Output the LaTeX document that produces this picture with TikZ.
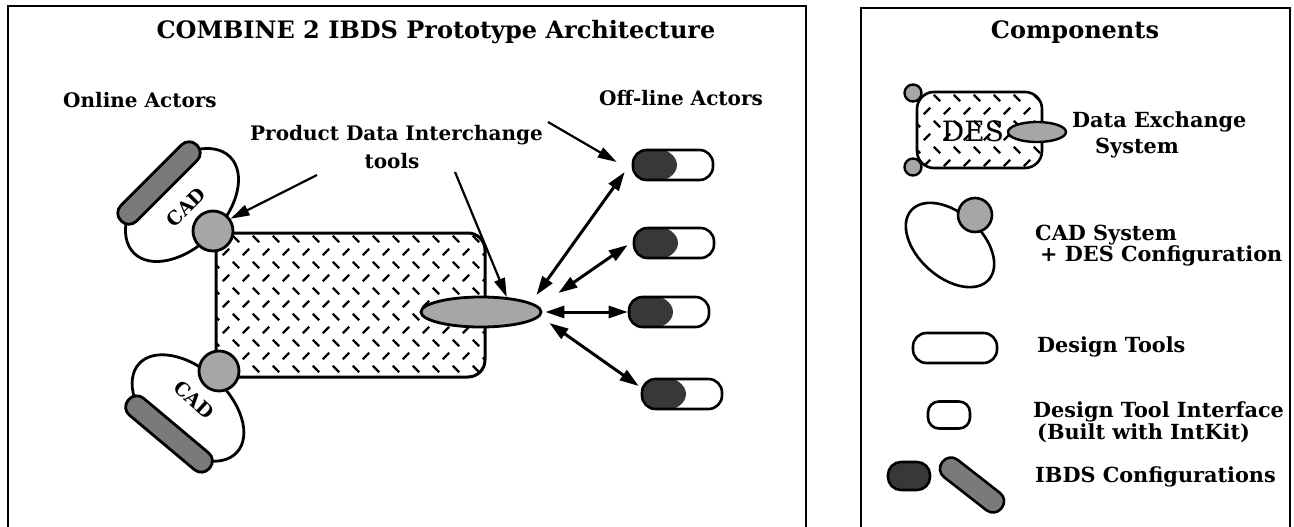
\documentclass[tikz,border=0pt]{standalone}
\usepackage{fontspec}
\setmainfont{DejaVu Serif}
\usetikzlibrary{arrows.meta,shapes.geometric}

% diamond-plate dashes over the rectangle [#1,#3] x [#2,#4] (node-relative)
\newcommand\plate[4]{%
  \pgfmathtruncatemacro\platenc{(#3-#1)/20+1}%
  \pgfmathtruncatemacro\platenr{(#4-#2)/13+1}%
  \foreach \r in {0,...,\platenr}{%
    \foreach \c in {0,...,\platenc}{%
      \pgfmathsetmacro\px{#1+20*\c+10*mod(\r,2)}%
      \pgfmathsetmacro\py{#2+6+13*\r}%
      \pgfmathsetmacro\dx{ifthenelse(mod(\r,2)==0,3.2,-3.2)}%
      \draw[platedash] ({\px-(\dx)},{\py-3.2}) -- ({\px+(\dx)},{\py+3.2});
    }%
  }%
}

\begin{document}
\begin{tikzpicture}[x=1pt,y=-1pt,
  frame/.style={draw,line width=1.6pt},
  platedash/.style={line width=2.2pt,line cap=butt},
  ttl/.style={font=\bfseries\fontsize{24}{27}\selectfont,inner sep=0pt},
  lbl/.style={font=\bfseries\fontsize{20}{22}\selectfont,inner sep=0pt,anchor=west},
  leg/.style={font=\bfseries\fontsize{20.8}{22}\selectfont,inner sep=0pt,anchor=west},
  desbox/.style={draw,line width=3pt,fill=white,rounded corners=17pt,inner sep=0pt},
  cadshape/.style={ellipse,draw,line width=2.8pt,fill=white,inner sep=0pt},
  bar/.style={rectangle,draw,line width=2.8pt,fill=black!52,rounded corners=10.5pt,inner sep=0pt},
  greydot/.style={circle,draw,line width=2.8pt,fill=black!35,inner sep=0pt},
  pdishape/.style={ellipse,draw,line width=2.8pt,fill=black!35,inner sep=0pt},
  capsule/.style={draw,line width=2.6pt,fill=white,rounded corners=13.5pt,inner sep=0pt},
  pill/.style={capsule,minimum width=80pt,minimum height=30pt,
    path picture={\fill[black!78] ([xshift=20pt]path picture bounding box.west) ellipse (24pt and 17pt);}},
  cadtext/.style={font=\bfseries\fontsize{19}{19}\selectfont,inner sep=0pt},
  arr/.style={line width=2.2pt,-{Triangle[length=19pt,width=11pt]}},
  darr/.style={line width=3pt,{Triangle[length=19pt,width=12pt]}-{Triangle[length=19pt,width=12pt]}}
]
\useasboundingbox (0,0) rectangle (1294,527);
\clip (0,0) rectangle (1294,527);

% panel frames
\draw[frame] (8,540) -- (8,6) -- (806,6) -- (806,540);
\draw[frame] (861,540) -- (861,8) -- (1290,8) -- (1290,540);

% ---------------- architecture panel ----------------
\node[ttl] (title) at (436,32) {COMBINE 2 IBDS Prototype Architecture};
\node[lbl] (online) at (63,100) {Online Actors};
\node[lbl,anchor=east] (offline) at (763,98) {Off-line Actors};
\node[lbl] (pdil) at (250,135) {Product Data Interchange};
\node[lbl,anchor=center] (tools) at (392,161) {tools};

% data exchange system
\node[desbox,minimum width=269pt,minimum height=144pt,
  path picture={\plate{-134.5}{-72}{134.5}{72}}] (des) at (350.5,305) {};

% online CAD actors
\node[cadshape,minimum width=136pt,minimum height=84pt,rotate=45] (cadA) at (182,205) {};
\node[bar,minimum width=107pt,minimum height=22pt,rotate=45] (barA) at (159,183) {};
\node[cadtext,rotate=45] (cadAt) at (186,207) {CAD};
\node[greydot,minimum size=40pt] (ctop) at (213,231) {};

\node[cadshape,minimum width=132pt,minimum height=80pt,rotate=-42] (cadB) at (188,408) {};
\node[bar,minimum width=106pt,minimum height=22pt,rotate=-40] (barB) at (169,434) {};
\node[cadtext,rotate=-42] (cadBt) at (194,400) {CAD};
\node[greydot,minimum size=40pt] (cbot) at (219,371) {};

% product data interchange tool
\node[pdishape,minimum width=120pt,minimum height=30pt] (pdi) at (481,312) {};

% off-line actors
\node[pill] (p1) at (673,165) {};
\node[pill] (p2) at (674,243) {};
\node[pill] (p3) at (669,312) {};
\node[pill] (p4) at (682,394) {};

% label arrows
\coordinate (a1) at (317,175);
\coordinate (a2) at (455,172);
\coordinate (a3) at (548,122);
\draw[arr] (a1) -- (ctop.35);
\draw[arr] (a2) -- (pdi.30);
\draw[arr] (a3) -- ([shift={(-15,-3)}]p1.west);

% exchange links
\draw[darr] ([shift={(-6,-17)}]pdi.east) -- ([shift={(-7,7)}]p1.west);
\draw[darr] ([shift={(16,-19)}]pdi.east) -- ([shift={(-5,2)}]p2.west);
\draw[darr] ([shift={(3,0)}]pdi.east) -- (p3.west);
\draw[darr] ([shift={(7,11)}]pdi.east) -- ([shift={(-2,-8)}]p4.west);

% ---------------- components panel ----------------
\node[ttl] (comp) at (1075,32) {Components};

\node[desbox,line width=2.6pt,minimum width=125pt,minimum height=76pt,
  path picture={\plate{-62.5}{-38}{62.5}{38}}] (desl) at (979.5,130) {};
\node[font=\fontsize{28}{28}\selectfont,inner sep=0pt] (deslt) at (973,131) {DES};
\node[greydot,line width=2.4pt,minimum size=17pt] (deslc1) at (913,93) {};
\node[greydot,line width=2.4pt,minimum size=17pt] (deslc2) at (913,167) {};
\node[pdishape,line width=2.4pt,minimum width=58pt,minimum height=20pt] (desle) at (1037,132) {};
\node[leg] (t1) at (1072,122) {Data Exchange};
\node[leg] (t2) at (1095,148) {System};

\node[cadshape,line width=2.6pt,minimum width=104pt,minimum height=64pt,rotate=-42] (cadl) at (950,245) {};
\node[greydot,line width=2.6pt,minimum size=34pt] (cadlc) at (975,215) {};
\node[leg] (t3) at (1035,235) {CAD System};
\node[leg] (t4) at (1040,256) {+ DES Configuration};

\node[capsule,minimum width=84pt,minimum height=30pt] (dtl) at (955,348) {};
\node[leg] (t5) at (1037,347) {Design Tools};

\node[capsule,rounded corners=11pt,minimum width=42pt,minimum height=27pt] (dil) at (949,415) {};
\node[leg] (t6) at (1033,412) {Design Tool Interface};
\node[leg] (t7) at (1037,433) {(Built with IntKit)};

\node[draw,line width=2.6pt,fill=black!78,rounded corners=13pt,minimum width=42pt,minimum height=28pt,inner sep=0pt] (ibl) at (909,476) {};
\node[bar,line width=2.6pt,minimum width=75pt,minimum height=22pt,rotate=-38] (ibb) at (972,485) {};
\node[leg] (t8) at (1035,477) {IBDS Configurations};
\end{tikzpicture}
\end{document}
